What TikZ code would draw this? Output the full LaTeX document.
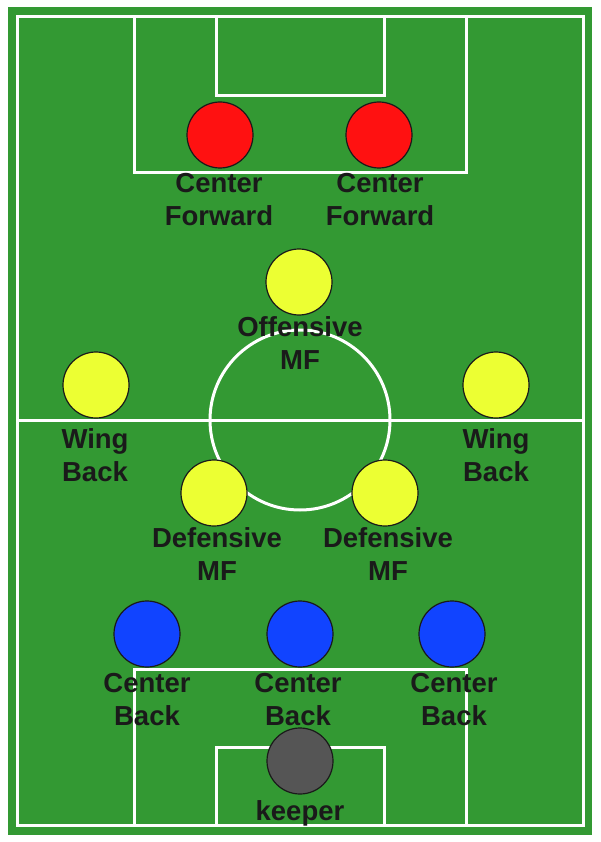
\documentclass[tikz,border=0pt]{standalone}
\usepackage{fontspec}
\setmainfont{Liberation Sans}
\definecolor{pitch}{RGB}{51,153,51}
\definecolor{fwd}{RGB}{255,17,17}
\definecolor{mid}{RGB}{236,255,51}
\definecolor{def}{RGB}{17,68,255}
\definecolor{gk}{RGB}{85,85,85}
\definecolor{ink}{RGB}{26,26,26}
\tikzset{
  pline/.style={draw=white, line width=3pt},
  player/.style={circle, draw=ink, line width=1.2pt, minimum size=66pt, inner sep=0pt},
  lbl/.style={anchor=north, inner sep=0pt, align=center, text=ink,
    font=\bfseries\fontsize{27.5}{33}\selectfont}
}
\begin{document}
\begin{tikzpicture}[x=1pt,y=-1pt]
\useasboundingbox (0,0) rectangle (600,842);
\fill[white] (0,0) rectangle (600,842);
% field
\fill[pitch] (8,7) rectangle (592,835);
\draw[pline] (17,17) rectangle (583,825);
\draw[pline] (17,420) -- (583,420);
\draw[pline] (300,420) circle[radius=90];
% top boxes
\draw[pline] (134,17) rectangle (466,173);
\draw[pline] (216,17) rectangle (384,96);
% bottom boxes
\draw[pline] (134,669) rectangle (466,825);
\draw[pline] (216,747) rectangle (384,825);
% players
\node[player, fill=fwd] (cf1) at (220,135) {};
\node[player, fill=fwd] (cf2) at (379,135) {};
\node[player, fill=mid] (om) at (299,282) {};
\node[player, fill=mid] (wb1) at (96,385) {};
\node[player, fill=mid] (wb2) at (496,385) {};
\node[player, fill=mid] (dm1) at (214,493) {};
\node[player, fill=mid] (dm2) at (385,493) {};
\node[player, fill=def] (cb1) at (147,634) {};
\node[player, fill=def] (cb2) at (300,634) {};
\node[player, fill=def] (cb3) at (452,634) {};
\node[player, fill=gk] (kp) at (300,761) {};
% labels
\node[lbl] (lcf1) at (219,173) {Center\\Forward};
\node[lbl] (lcf2) at (380,173) {Center\\Forward};
\node[lbl] (lom) at (300,316) {Offensive\\MF};
\node[lbl] (lwb1) at (95,428) {Wing\\Back};
\node[lbl] (lwb2) at (496,428) {Wing\\Back};
\node[lbl] (ldm1) at (217,527) {Defensive\\MF};
\node[lbl] (ldm2) at (388,527) {Defensive\\MF};
\node[lbl] (lcb1) at (147,673) {Center\\Back};
\node[lbl] (lcb2) at (298,673) {Center\\Back};
\node[lbl] (lcb3) at (454,673) {Center\\Back};
\node[lbl] (lkp) at (300,800) {keeper};
\end{tikzpicture}
\end{document}
